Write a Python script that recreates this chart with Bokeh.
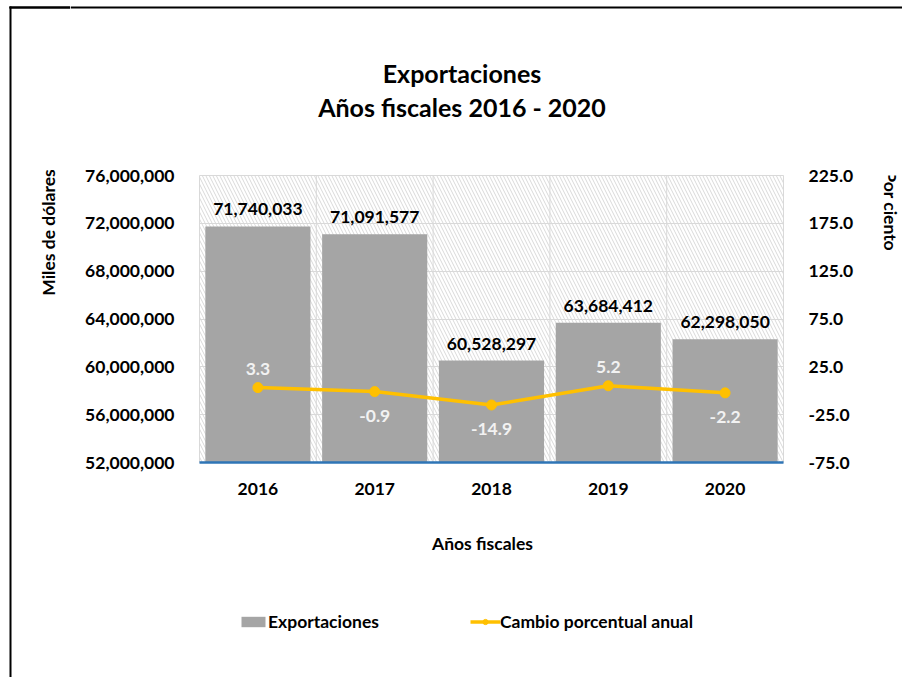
import math
from bokeh.plotting import figure
from bokeh.layouts import row, column
from bokeh.models import (FactorRange, Range1d, LinearAxis, FixedTicker, NumeralTickFormatter,
                          ColumnDataSource, BoxAnnotation, Span, Label, Legend, LegendItem)
from bokeh.core.properties import value
from bokeh.embed import file_html
from bokeh.resources import INLINE

# ---------------- data ----------------
years = ["2016", "2017", "2018", "2019", "2020"]
exports = [71740033, 71091577, 60528297, 63684412, 62298050]
pct_change = [3.3, -0.9, -14.9, 5.2, -2.2]
left_ticks = [52000000, 56000000, 60000000, 64000000, 68000000, 72000000, 76000000]
right_ticks = [-75, -25, 25, 75, 125, 175, 225]

title_line1 = "Exportaciones"
title_line2 = "Años fiscales 2016 - 2020"
x_title = "Años fiscales"
left_title = "Miles de dólares"
right_title = "Por ciento"
series_bar = "Exportaciones"
series_line = "Cambio porcentual anual"

# ---------------- style ----------------
FONT = "Lato"
FS = "17.5px"
BAR_COLOR = "#a5a5a5"
LINE_COLOR = "#ffc000"
GRID_COLOR = "#d9d9d9"
AXIS_BLUE = "#2e75b6"

# page layout (pixels)
PAGE_W, PAGE_H = 902, 677
LEFT_W = 70          # left strip (y-axis title + border)
TOP_H = 140          # title strip
MAIN_W, MAIN_H = 793, 370
RIGHT_W = PAGE_W - LEFT_W - MAIN_W
BOT_H = PAGE_H - TOP_H - MAIN_H
COL_W = PAGE_W - LEFT_W


def strip(w, h):
    """A figure whose frame fills the whole canvas, with data units = pixels (y down)."""
    f = figure(width=w, height=h, x_range=Range1d(0, w), y_range=Range1d(h, 0),
               x_axis_type=None, y_axis_type=None, title=None,
               output_backend="svg", toolbar_location=None, min_border=0)
    f.outline_line_color = None
    f.background_fill_color = "white"
    f.border_fill_color = "white"
    f.grid.visible = False
    return f


def label(f, x, y, text, size=FS, angle=0.0, baseline="alphabetic"):
    f.add_layout(Label(x=x, y=y, text=text, angle=angle, text_align="center",
                       text_baseline=baseline, text_font=FONT,
                       text_font_style="bold", text_font_size=size,
                       text_color="black"))


def border(f, l, r, t, b):
    f.quad(left=[l], right=[r], top=[t], bottom=[b], fill_color="black",
           line_color=None)


# ---------------- main chart ----------------
src = ColumnDataSource(dict(
    year=years,
    exports=exports,
    exp_lbl=[f"{v:,}" for v in exports],
    pct=pct_change,
    pct_lbl=[f"{v:.1f}" for v in pct_change],
    pct_off=[-19 if v >= 0 else 24 for v in pct_change],
))

p = figure(x_range=FactorRange(*years),
           y_range=Range1d(left_ticks[0], left_ticks[-1]),
           width=MAIN_W, height=MAIN_H, output_backend="svg", toolbar_location=None,
           min_border_left=199 - LEFT_W, min_border_right=LEFT_W + MAIN_W - 783,
           min_border_top=175 - TOP_H, min_border_bottom=TOP_H + MAIN_H - 462)
p.extra_y_ranges = {"pct": Range1d(right_ticks[0], right_ticks[-1])}
p.background_fill_color = "white"
p.border_fill_color = "white"
p.outline_line_color = GRID_COLOR

p.add_layout(BoxAnnotation(fill_color=None, line_color=None,
                           hatch_pattern="\\", hatch_color=GRID_COLOR,
                           hatch_scale=7, hatch_weight=1, level="image"))

p.xgrid.visible = False
p.ygrid.ticker = FixedTicker(ticks=left_ticks)
p.ygrid.grid_line_color = GRID_COLOR
for i in range(1, len(years)):
    p.add_layout(Span(location=i, dimension="height", line_color=GRID_COLOR,
                      line_width=1, level="underlay"))

p.vbar(x="year", top="exports", bottom=left_ticks[0], width=0.9,
       fill_color=BAR_COLOR, line_color=None, source=src)
p.line(x="year", y="pct", y_range_name="pct", line_color=LINE_COLOR,
       line_width=3.5, source=src)
p.scatter(x="year", y="pct", y_range_name="pct", size=10,
          fill_color=LINE_COLOR, line_color=LINE_COLOR, source=src)

p.text(x="year", y="exports", text="exp_lbl", source=src, y_offset=-17,
       text_align="center", text_baseline="alphabetic", text_color="black",
       text_font=value(FONT), text_font_style="bold", text_font_size=FS)
p.text(x="year", y="pct", text="pct_lbl", source=src, y_range_name="pct",
       y_offset="pct_off", text_align="center", text_baseline="middle",
       text_color="#f2f2f2", text_font=value(FONT), text_font_style="bold",
       text_font_size=FS)


def style_axis(a, standoff):
    a.major_tick_line_color = None
    a.minor_tick_line_color = None
    a.major_label_standoff = standoff
    a.major_label_text_font = FONT
    a.major_label_text_font_style = "bold"
    a.major_label_text_font_size = FS
    a.major_label_text_color = "black"


xa = p.xaxis[0]
style_axis(xa, 14)
xa.axis_line_color = AXIS_BLUE
xa.axis_line_width = 2.5

ya = p.yaxis[0]
style_axis(ya, 19)
ya.ticker = FixedTicker(ticks=left_ticks)
ya.formatter = NumeralTickFormatter(format="0,0")
ya.axis_line_color = None

ra = LinearAxis(y_range_name="pct", ticker=FixedTicker(ticks=right_ticks),
                formatter=NumeralTickFormatter(format="0.0"))
style_axis(ra, 19)
ra.axis_line_color = None
p.add_layout(ra, "right")

# ---------------- surrounding strips ----------------
# left strip: chart border + y-axis title
left = strip(LEFT_W, PAGE_H)
border(left, 9, 11, 6, PAGE_H)
border(left, 9, LEFT_W, 6, 8)
left.segment(x0=[9], y0=[7], x1=[LEFT_W], y1=[7], line_color="black", line_width=2)
label(left, 48, 232, left_title, angle=math.pi / 2, baseline="middle")

# top strip: chart border + two-line title
top = strip(COL_W, TOP_H)
border(top, 0, COL_W, 6, 8)
label(top, 461.5 - LEFT_W, 72, title_line1, size="25px")
label(top, 461.5 - LEFT_W, 106, title_line2, size="25px")

# right strip: secondary axis title
right = strip(RIGHT_W, MAIN_H)
label(right, 890 - LEFT_W - MAIN_W, 186 - TOP_H, right_title,
      angle=-math.pi / 2, baseline="middle")

# bottom strip: x-axis title + legend
bottom = strip(COL_W, BOT_H)
label(bottom, 482 - LEFT_W, 543 - TOP_H - MAIN_H, x_title)
nan = float("nan")
legend_src = ColumnDataSource(dict(x=[nan], y=[nan]))
lg_bar = bottom.vbar(x="x", top="y", width=1, fill_color=BAR_COLOR, line_color=None,
                     source=legend_src)
lg_line = bottom.line(x="x", y="y", line_color=LINE_COLOR, line_width=3.5,
                      source=legend_src)
lg_pts = bottom.scatter(x="x", y="y", size=10, fill_color=LINE_COLOR,
                        line_color=LINE_COLOR, source=legend_src)
legend = Legend(items=[LegendItem(label=series_bar, renderers=[lg_bar]),
                       LegendItem(label=series_line, renderers=[lg_line, lg_pts])],
                orientation="horizontal", location=(238 - LEFT_W, PAGE_H - 631.5),
                border_line_color=None, background_fill_alpha=0,
                padding=0, margin=0, spacing=91,
                glyph_width=30, glyph_height=13, label_height=13,
                label_standoff=0, label_text_font=FONT,
                label_text_font_style="bold", label_text_font_size=FS,
                label_text_color="black")
bottom.add_layout(legend, "center")

layout = row(left, column(top, row(p, right), bottom))

open("out.html", "w").write(file_html(layout, INLINE))
